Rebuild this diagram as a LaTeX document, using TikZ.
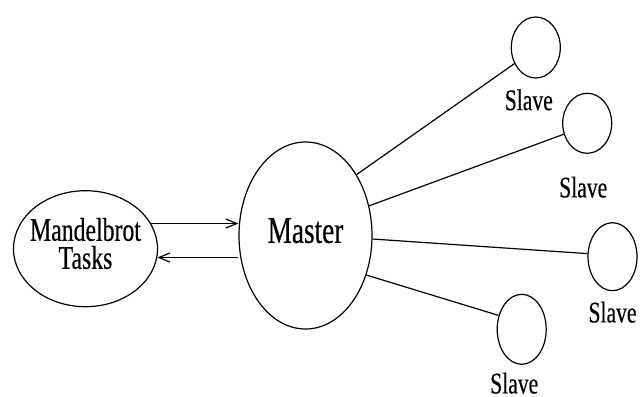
\documentclass[tikz,border=0pt]{standalone}
\usepackage{fontspec}
\setmainfont{Liberation Serif}[FakeStretch=0.72, FakeBold=0.4]
\usetikzlibrary{shapes.geometric, arrows.meta, positioning}

\begin{document}
\begin{tikzpicture}[x=1pt, y=-1pt]
	\tikzstyle{blob} = [ellipse, draw=black, line width=1.2pt, inner sep=0pt]
	\tikzstyle{worker} = [blob, minimum width=49pt]
	\tikzstyle{slavetext} = [inner sep=0pt, outer sep=0pt, font=\fontsize{30}{36}\selectfont]
	\tikzstyle{wire} = [line width=1.2pt]
	\tikzstyle{arrow} = [wire, -{Straight Barb[length=11pt, width=9pt]}]
	\useasboundingbox (0,0) rectangle (642,396);
	\node (master) [blob, minimum width=133pt, minimum height=187pt, text depth=10pt, font=\fontsize{37.8}{45}\selectfont] at (305.5,235.5) {Master};
	\node (tasks) [blob, minimum width=144pt, minimum height=116pt] at (85.5,248.7) {};
	\node (tasksText) [anchor=north, inner sep=0pt, align=center, font=\fontsize{33}{28}\selectfont] at ([yshift=31pt]tasks.center) {Mandelbrot\\Tasks};
	\node (slave1) [worker, minimum height=61pt] at (535.8,47.5) {};
	\node (slave2) [worker, minimum height=60pt] at (587.2,123.3) {};
	\node (slave3) [worker, minimum height=68pt] at (612.5,256.7) {};
	\node (slave4) [worker, minimum height=70pt] at (521.7,329.3) {};
	\node (slave1Text) [slavetext, below=10.7pt of slave1, xshift=-7pt] {Slave};
	\node (slave2Text) [slavetext, below=22.7pt of slave2, xshift=-4pt] {Slave};
	\node (slave3Text) [slavetext, below=10.3pt of slave3] {Slave};
	\node (slave4Text) [slavetext, below=7.7pt of slave4, xshift=-7.5pt] {Slave};
	\draw [arrow] (tasks.21) -- (tasks.21 -| master.west);
	\draw [arrow] (tasks.-7 -| master.west) -- (tasks.-7);
	\draw [wire] (master.50) -- (slave1.217);
	\draw [wire] (master.25) -- (slave2.205);
	\draw [wire] (master.-3) -- (slave3.173);
	\draw [wire] (master.-33) -- (slave4.149);
\end{tikzpicture}
\end{document}
